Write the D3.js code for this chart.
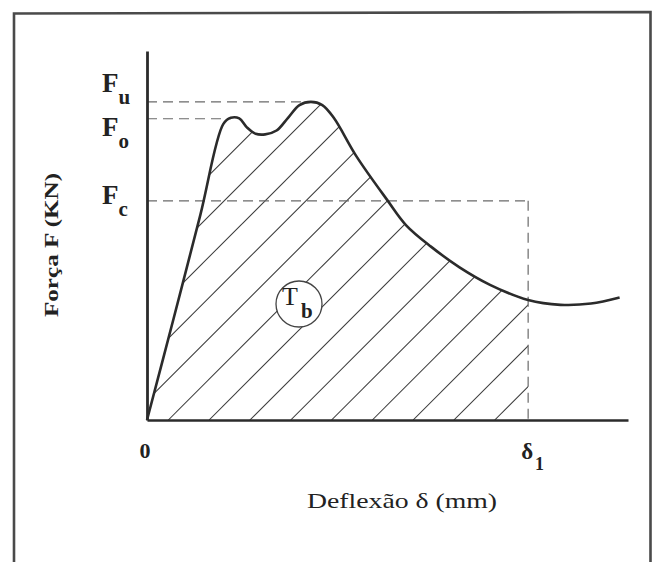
<!DOCTYPE html>
<html><head><meta charset="utf-8">
<script src="https://cdn.jsdelivr.net/npm/d3@7"></script>
<style>html,body{margin:0;padding:0;background:#fff;}svg{display:block;}</style>
</head><body>
<svg id="c" width="655" height="562"></svg>
<script>
// deflection (mm, arbitrary units) and force (kN, arbitrary units)
const deflection = [0, 0.7, 1.4, 2.0, 2.2, 2.42, 2.62, 2.85, 3.1, 3.4, 3.7, 4.0, 4.3, 4.6, 4.9, 5.5, 6.3, 6.8, 7.45, 8.2, 9.0, 10.0, 10.85, 11.65, 12.4];
const force      = [0, 3.2, 6.45, 9.3, 9.5, 9.48, 9.2, 9.0, 8.98, 9.1, 9.5, 9.9, 10.0, 9.9, 9.5, 8.28, 6.92, 6.12, 5.45, 4.8, 4.25, 3.77, 3.62, 3.66, 3.85];
const levelNames = ["u", "o", "c"];
const levelValues = [10.0, 9.47, 6.89];       // Fu, Fo, Fc
const levelEnds = [4.3, 2.2, 10.0];           // where each dashed guide stops
const delta1 = 10.0;
const xTickLabels = ["0", "δ"];
const xTitle = "Deflexão δ (mm)";
const yTitle = "Força F (KN)";

const svg = d3.select("#c");
const x = d3.scaleLinear().domain([0, 12.62]).range([147, 628]);
const y = d3.scaleLinear().domain([0, 11.6]).range([420, 51]);
const ink = "#2b2b2b";
const pts = deflection.map((d, i) => [d, force[i]]);

// frame
svg.append("path")
  .attr("d", "M14,570 L14,13.5 L650.5,12 L650.5,570")
  .attr("fill", "none").attr("stroke", "#4a4a4a").attr("stroke-width", 2.6);

const defs = svg.append("defs");
const curve = d3.curveCatmullRom.alpha(0.5);
const area = d3.area().x(d => x(d[0])).y0(y(0)).y1(d => y(d[1])).curve(curve);
const line = d3.line().x(d => x(d[0])).y(d => y(d[1])).curve(curve);

defs.append("clipPath").attr("id", "under").append("path").attr("d", area(pts));
defs.append("clipPath").attr("id", "left").append("rect")
  .attr("x", x(0)).attr("y", 0).attr("width", x(delta1) - x(0)).attr("height", y(0));

// hatching
const hatchStep = 40.8, hatchStart = 168.3;
const hg = svg.append("g").attr("clip-path", "url(#left)")
  .append("g").attr("clip-path", "url(#under)");
const offs = d3.range(-12, 14).map(k => hatchStart + k * hatchStep);
hg.selectAll("line").data(offs).join("line")
  .attr("x1", d => d).attr("y1", y(0))
  .attr("x2", d => d + 420).attr("y2", y(0) - 420)
  .attr("stroke", "#3a3a3a").attr("stroke-width", 1.05);

// dashed guides
levelValues.forEach((v, i) => {
  svg.append("line").attr("x1", x(0)).attr("x2", x(levelEnds[i]))
    .attr("y1", y(v)).attr("y2", y(v))
    .attr("stroke", "#6a6a6a").attr("stroke-width", 1.2).attr("stroke-dasharray", "10,6");
});
svg.append("line").attr("x1", x(delta1)).attr("x2", x(delta1))
  .attr("y1", y(levelValues[2])).attr("y2", y(0))
  .attr("stroke", "#6a6a6a").attr("stroke-width", 1.2).attr("stroke-dasharray", "10,6");

// axes
const xAxis = d3.axisBottom(x).tickValues([]).tickSize(0).tickSizeOuter(0);
const yAxis = d3.axisLeft(y).tickValues([]).tickSize(0).tickSizeOuter(0);
const gx = svg.append("g").attr("transform", `translate(0,${y(0)})`).call(xAxis);
gx.select(".domain").attr("stroke", ink).attr("stroke-width", 2.6);
const gy = svg.append("g").attr("transform", `translate(${x(0)},0)`).call(yAxis);
gy.select(".domain").attr("stroke", ink).attr("stroke-width", 2.8);

// curve
svg.append("path").attr("d", line(pts)).attr("fill", "none")
  .attr("stroke", ink).attr("stroke-width", 2.6).attr("stroke-linejoin", "round");

const serif = "'Liberation Serif','DejaVu Serif',serif";

// F labels
const labelDy = [-10, 17, 3];
levelValues.forEach((v, i) => {
  const t = svg.append("text").attr("x", 102).attr("y", y(v) + labelDy[i])
    .attr("font-family", serif).attr("font-weight", "bold").attr("fill", "#222");
  t.append("tspan").attr("font-size", 27).text("F");
  t.append("tspan").attr("font-size", 21).attr("dy", 12).attr("dx", 0).text(levelNames[i]);
});

// x tick labels
svg.append("text").attr("x", x(0) - 2).attr("y", 458).attr("text-anchor", "middle")
  .attr("font-family", serif).attr("font-weight", "bold").attr("font-size", 22).attr("fill", "#222")
  .text(xTickLabels[0]);
const dl = svg.append("text").attr("x", x(delta1) - 7).attr("y", 459)
  .attr("font-family", serif).attr("font-weight", "bold").attr("fill", "#222");
dl.append("tspan").attr("font-size", 23).text(xTickLabels[1]);
dl.append("tspan").attr("font-size", 18).attr("dy", 11).attr("dx", 2).text("1");

// axis titles
svg.append("text").attr("x", 307).attr("y", 508)
  .attr("font-family", serif).attr("font-size", 22).attr("fill", "#222")
  .attr("textLength", 190).attr("lengthAdjust", "spacingAndGlyphs").text(xTitle);
svg.append("text").attr("transform", "translate(58,317) rotate(-90)")
  .attr("font-family", serif).attr("font-weight", "bold").attr("font-size", 18).attr("fill", "#222")
  .attr("textLength", 144).attr("lengthAdjust", "spacingAndGlyphs").text(yTitle);

// Tb circle
svg.append("circle").attr("cx", 299).attr("cy", 304).attr("r", 23)
  .attr("fill", "#fff").attr("stroke", "#444").attr("stroke-width", 1.3);
svg.append("text").attr("x", 282).attr("y", 305)
  .attr("font-family", serif).attr("font-size", 26).attr("fill", "#222").text("T");
svg.append("text").attr("x", 301).attr("y", 318)
  .attr("font-family", serif).attr("font-weight", "bold").attr("font-size", 21).attr("fill", "#222").text("b");
</script>
</body></html>
